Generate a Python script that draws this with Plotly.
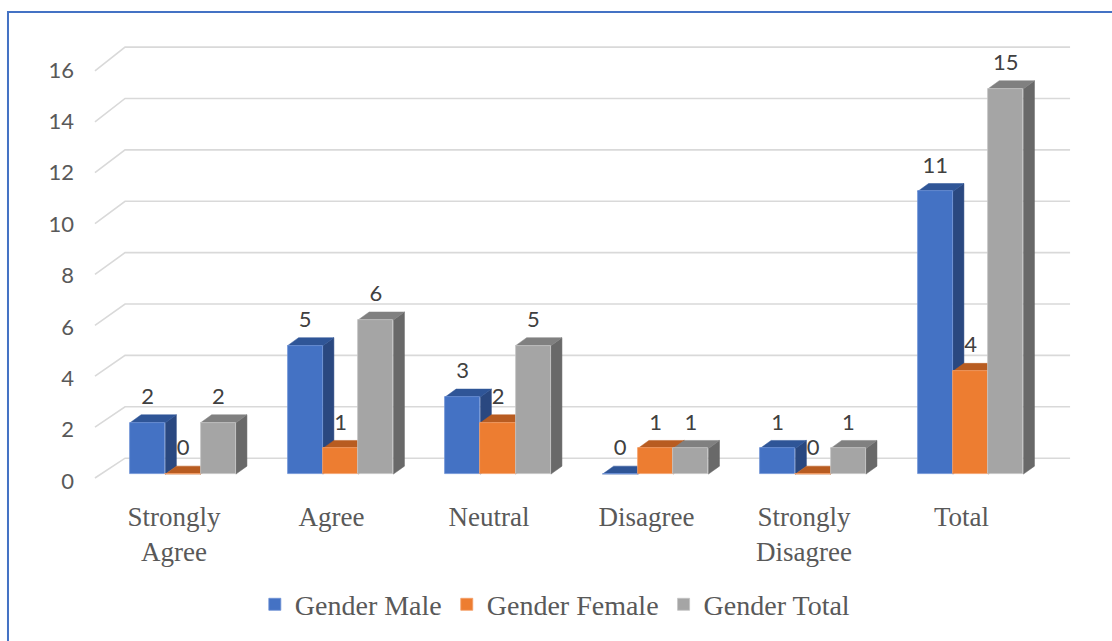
import plotly.graph_objects as go

# ---- data ----
categories = ["Strongly Agree", "Agree", "Neutral", "Disagree", "Strongly Disagree", "Total"]
category_labels = ["Strongly<br>Agree", "Agree", "Neutral", "Disagree", "Strongly<br>Disagree", "Total"]
series_names = ["Gender Male", "Gender Female", "Gender Total"]
gender_male = [2, 5, 3, 0, 1, 11]
gender_female = [0, 1, 2, 1, 0, 4]
gender_total = [2, 6, 5, 1, 1, 15]
y_ticks = [0, 2, 4, 6, 8, 10, 12, 14, 16]

series_values = [gender_male, gender_female, gender_total]

# ---- styling ----
front_colors = ["#4472C4", "#ED7D31", "#A5A5A5"]
top_colors = ["#2F5597", "#B85C21", "#808080"]
side_colors = ["#2A4880", "#9E4E1A", "#696969"]
edge_colors = ["#6F92D6", "#F4A06A", "#C4C4C4"]
text_grey = "#595959"
grid_grey = "#D9D9D9"

BAR_W = 0.224          # bar width in category units
DX, DY = 0.07, 0.31    # 3-D depth offset of bar faces (x units, y units)
WALL_DY = 0.62         # back wall lies this far "up" from the bar fronts
WALL_X0, WALL_X1 = -0.368, 5.632
FLOOR_X0 = -0.559
X_RANGE = [-0.654, 5.822]
Y_RANGE = [-0.930, 17.674]

fig = go.Figure()
shapes = []

# perspective gridlines: diagonal on the side wall + horizontal on the back wall
for v in y_ticks:
    yf = 0.99 * v - 0.15
    yb = v + WALL_DY
    shapes.append(dict(
        type="path", xref="x", yref="y", layer="below",
        path=f"M{FLOOR_X0},{yf} L{WALL_X0},{yb} L{WALL_X1},{yb}",
        line=dict(color=grid_grey, width=1.6),
    ))

# side and top faces of every bar, series by series (left to right)
for s, vals in enumerate(series_values):
    for i, v in enumerate(vals):
        x0 = i + (s - 1.5) * BAR_W
        x1 = x0 + BAR_W
        side = (f"M{x1},0 L{x1 + DX},{DY} L{x1 + DX},{v + DY} "
                f"L{x1},{v} Z")
        top = (f"M{x0},{v} L{x0 + DX},{v + DY} L{x1 + DX},{v + DY} "
               f"L{x1},{v} Z")
        shapes.append(dict(type="path", xref="x", yref="y", layer="below",
                           path=side, fillcolor=side_colors[s],
                           line=dict(color=side_colors[s], width=0.5)))
        shapes.append(dict(type="path", xref="x", yref="y", layer="below",
                           path=top, fillcolor=top_colors[s],
                           line=dict(color=top_colors[s], width=0.5)))

# front faces of the bars
for s, vals in enumerate(series_values):
    centers = [i + (s - 1.5) * BAR_W + BAR_W / 2 for i in range(len(vals))]
    fig.add_trace(go.Bar(
        x=centers, y=vals, width=BAR_W, name=series_names[s],
        marker=dict(color=front_colors[s],
                    line=dict(color=edge_colors[s], width=0.8)),
        hoverinfo="skip",
    ))

# value labels above each bar
for s, vals in enumerate(series_values):
    centers = [i + (s - 1.5) * BAR_W + BAR_W / 2 for i in range(len(vals))]
    fig.add_trace(go.Scatter(
        x=centers, y=[v + 0.95 for v in vals], mode="text",
        text=[str(v) for v in vals], showlegend=False, hoverinfo="skip",
        textfont=dict(family="Lato", size=22, color="#404040"),
    ))

# blue frame around the chart area
shapes.append(dict(type="rect", xref="paper", yref="paper", layer="above",
                   x0=-0.0706, x1=1.2, y0=-0.6, y1=1.0167,
                   line=dict(color="#4472C4", width=2)))

fig.update_layout(
    width=1112, height=641,
    margin=dict(l=80, r=12, t=20, b=141),
    paper_bgcolor="white", plot_bgcolor="white",
    barmode="overlay", bargap=0,
    shapes=shapes,
    showlegend=True,
    legend=dict(orientation="h", x=0.466, xanchor="center",
                y=-0.223, yanchor="middle",
                font=dict(family="Liberation Serif", size=28, color=text_grey),
                itemwidth=30, traceorder="normal"),
    xaxis=dict(range=X_RANGE, tickvals=[i - 0.057 for i in range(len(categories))],
               ticktext=category_labels, showgrid=False, zeroline=False,
               showline=False, ticks="",
               tickfont=dict(family="Liberation Serif", size=27, color=text_grey)),
    yaxis=dict(range=Y_RANGE, tickvals=[v - 0.27 for v in y_ticks],
               ticktext=[str(v) for v in y_ticks], showgrid=False,
               zeroline=False, showline=False, ticks="", ticklabelstandoff=5,
               tickfont=dict(family="Lato", size=22, color=text_grey)),
)

fig.write_html("out.html")
